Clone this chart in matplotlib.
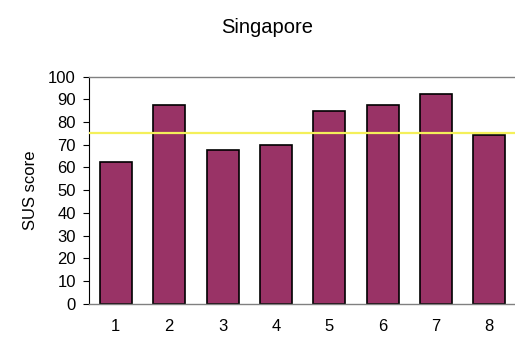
import matplotlib
matplotlib.use("Agg")
import matplotlib.pyplot as plt

# SUS scores per participant, Singapore sessions
participants = ["1", "2", "3", "4", "5", "6", "7", "8"]
sus_scores = [62.5, 87.5, 67.5, 70, 85, 87.5, 92.5, 74.5]
benchmark = 75

PLUM = "#993366"
LINE_YELLOW = "#F4F05A"
GREY = "#808080"

plt.rcParams.update({"font.family": ["Liberation Sans", "DejaVu Sans"]})

fig = plt.figure(figsize=(5.15, 3.42), dpi=100)
ax = fig.add_axes([0.173, 0.112, 0.829, 0.664])

x = range(len(participants))
ax.bar(x, sus_scores, width=0.6, color=PLUM, edgecolor="black", linewidth=1.2, zorder=2)
ax.axhline(benchmark, color=LINE_YELLOW, linewidth=1.6, zorder=3)

ax.set_xlim(-0.5, len(participants) - 0.5)
ax.set_ylim(0, 100)
ax.set_yticks(range(0, 101, 10))
ax.set_xticks(list(x))
ax.set_xticklabels(participants)
ax.tick_params(axis="x", length=0, pad=11, labelsize=12)
ax.tick_params(axis="y", direction="out", length=4.5, color="black", labelsize=12, pad=5)

for side in ("top", "bottom"):
    ax.spines[side].set_color(GREY)
    ax.spines[side].set_linewidth(1.0)
ax.spines["left"].set_color("black")
ax.spines["right"].set_visible(False)

ax.set_ylabel("SUS score", fontsize=12)
ax.yaxis.set_label_coords(-0.12, 0.5)
fig.text(0.519, 0.921, "Singapore", ha="center", va="center", fontsize=14.5)

fig.savefig("out.png", dpi=100)
